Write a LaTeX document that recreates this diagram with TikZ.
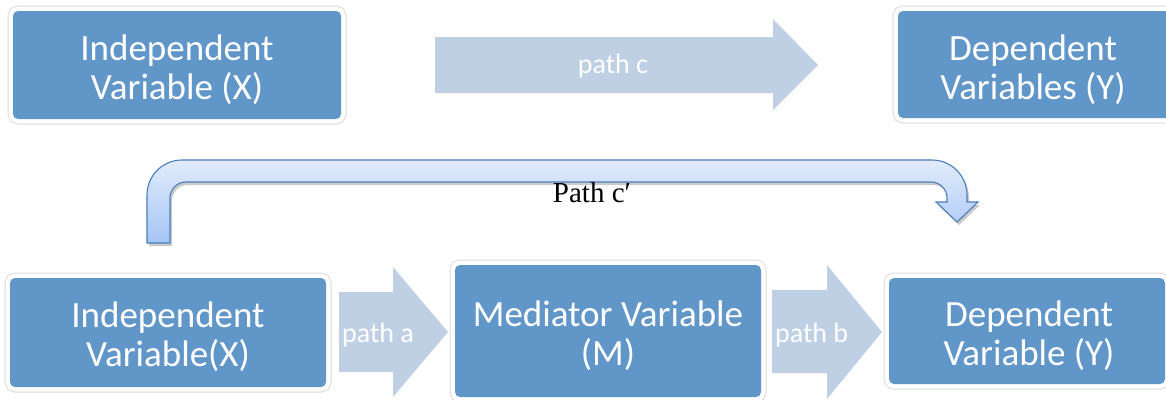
\documentclass[tikz,border=0pt]{standalone}
\usepackage{fontspec}
\setmainfont{Carlito}
\newfontfamily\pathserif{Liberation Serif}
\usetikzlibrary{shadows}
\definecolor{boxblue}{HTML}{6196C9}
\definecolor{arrowlight}{HTML}{BFCFE4}
\definecolor{bendline}{HTML}{4A7EBB}
\definecolor{bendtop}{HTML}{E2EBFB}
\definecolor{bendbot}{HTML}{A6C5F6}
\begin{document}
\begin{tikzpicture}[x=1pt,y=-1pt,
  vbox/.style={fill=boxblue, rounded corners=5pt, inner sep=0pt,
    preaction={draw=black!14, line width=11pt},
    preaction={draw=white, line width=9pt}},
  vtext/.style={text=white, align=center, font=\fontsize{37}{39}\selectfont, inner sep=0pt},
  blockarrow/.style={fill=arrowlight, draw=none},
  arrowtext/.style={text=white, font=\fontsize{28}{30}\selectfont, inner sep=0pt},
  bent/.style={draw=bendline, line width=1.1pt, top color=bendtop, bottom color=bendbot,
    drop shadow={shadow xshift=2pt, shadow yshift=-3pt, opacity=0.35, fill=black!60}}
]
\useasboundingbox (0,0) rectangle (1166,399);

% top row
\node[vbox, minimum width=328pt, minimum height=108pt] (X1) at (177,65) {};
\node[vtext] (X1t) at ([yshift=-5pt]X1.center) {Independent\\Variable (X)};
\node[vbox, minimum width=286pt, minimum height=107pt] (Y1) at (1041,64.5) {};
\node[vtext] (Y1t) at (1033,70) {Dependent\\Variables (Y)};
\draw[blockarrow] (435,37) -- (773,37) -- (773,19) -- (818,65) -- (773,110) -- (773,93) -- (435,93) -- cycle;
\node[arrowtext] (pc) at (613,66) {path c};

% bent arrow
\draw[bent] (147,243) [rounded corners=35pt] -- (147,160) -- (967,160) [sharp corners] -- (967,202)
  -- (978,202) -- (957,222) -- (936,202) -- (947,202) [rounded corners=16pt] -- (947,182) -- (170,182)
  [sharp corners] -- (170,243) -- cycle;
\node[anchor=base, inner sep=0pt, font=\pathserif\fontsize{29}{31}\selectfont] (pcp) at (592,202) {Path c′};

% bottom row
\node[vbox, minimum width=316pt, minimum height=109pt] (X2) at (168,332.5) {};
\node[vtext] (X2t) at ([yshift=-4pt]X2.center) {Independent\\Variable(X)};
\node[vbox, minimum width=306pt, minimum height=132pt] (M) at (608,331) {};
\node[vtext] (Mt) at ([yshift=-5pt]M.center) {Mediator Variable\\(M)};
\node[vbox, minimum width=276pt, minimum height=106pt] (Y2) at (1027,331) {};
\node[vtext] (Y2t) at ([xshift=2pt,yshift=-5pt]Y2.center) {Dependent\\Variable (Y)};
\draw[blockarrow] (339,292) -- (393,292) -- (393,267) -- (448,332) -- (393,397) -- (393,372) -- (339,372) -- cycle;
\node[arrowtext, anchor=base west] (pa) at (342,342) {path a};
\draw[blockarrow] (772,290) -- (827,290) -- (827,265) -- (882,332) -- (827,399) -- (827,373) -- (772,373) -- cycle;
\node[arrowtext, anchor=base west] (pb) at (775,342) {path b};
\end{tikzpicture}
\end{document}
